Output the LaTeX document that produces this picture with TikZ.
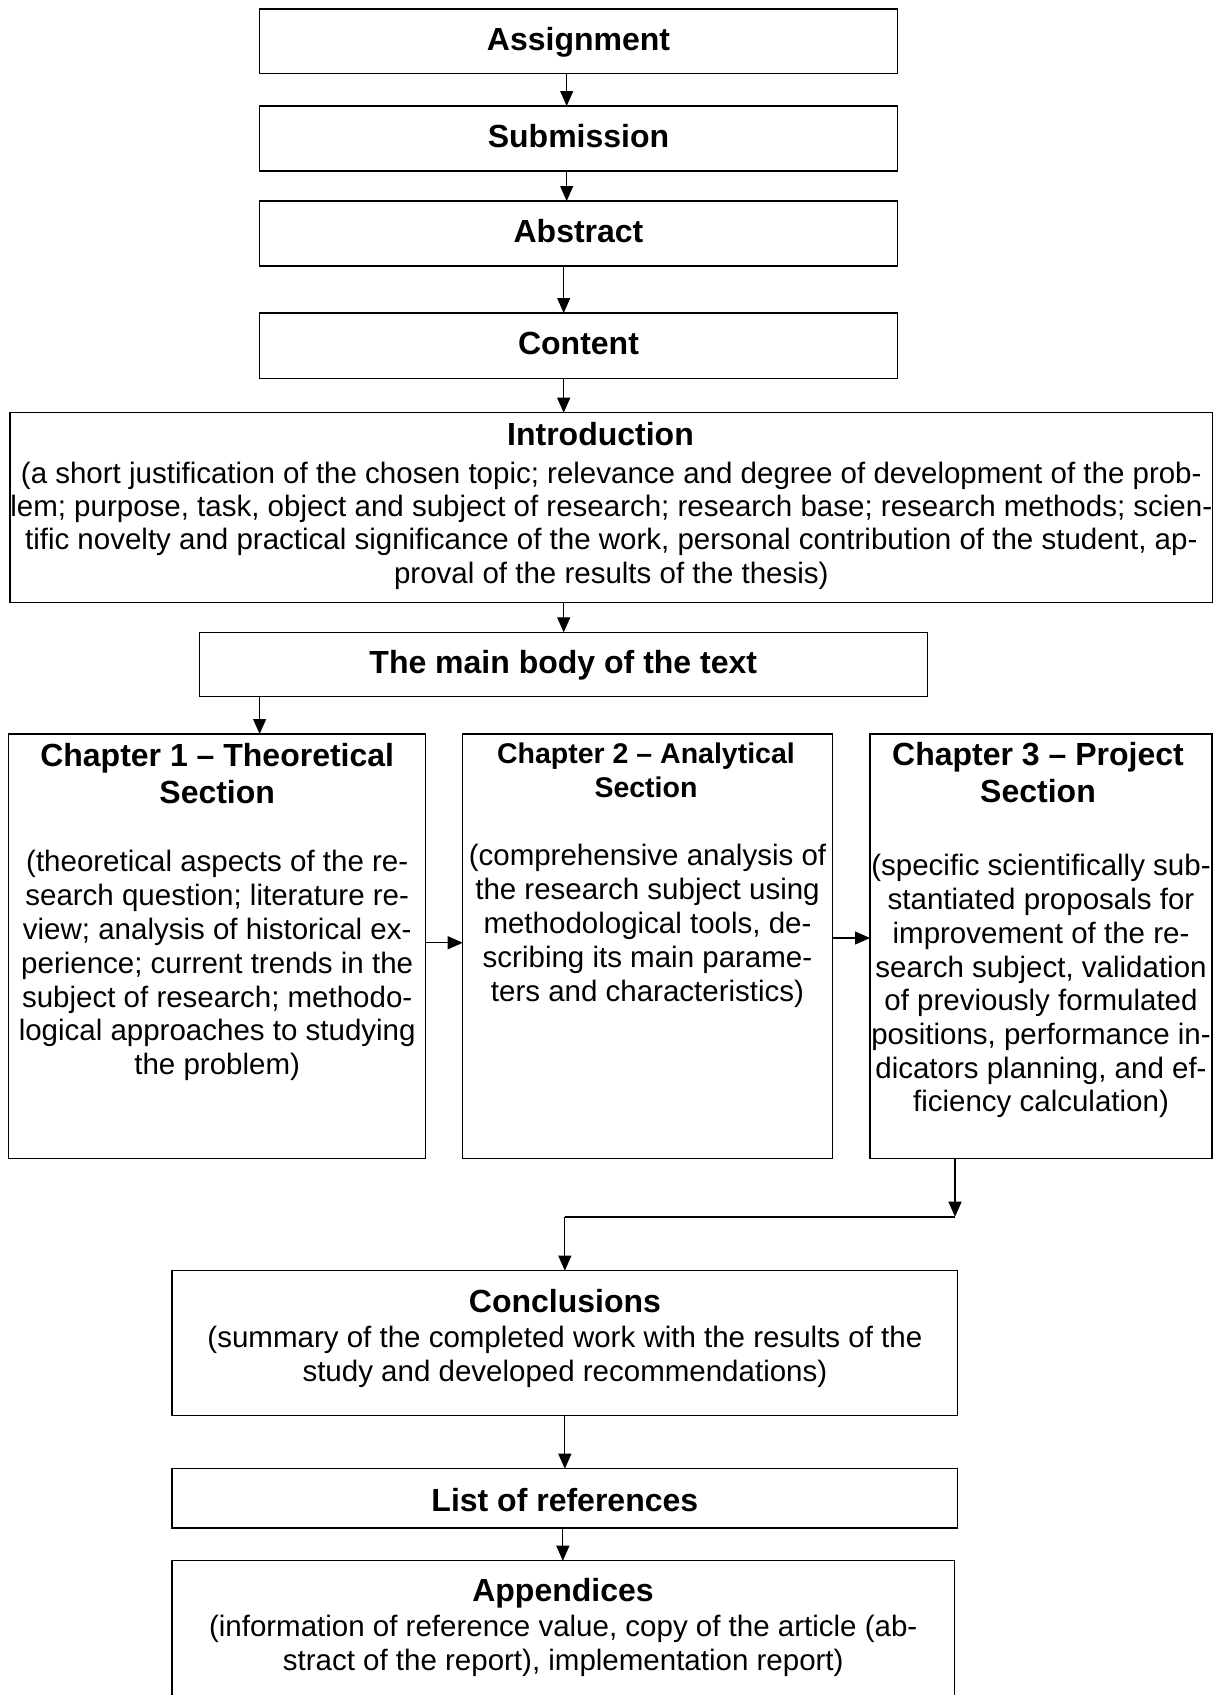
\documentclass[tikz,border=0pt]{standalone}
\usepackage{fontspec}
\setmainfont{Liberation Sans}
\usetikzlibrary{arrows.meta}
\begin{document}
\begin{tikzpicture}[x=1pt,y=-1pt,
  box/.style={draw, line width=1.3pt, rectangle, inner sep=0pt, outer sep=0pt, anchor=north west},
  one/.style={box, font=\bfseries\fontsize{32}{36.5}\selectfont, text height=18.5pt, text depth=0pt},
  ttl/.style={align=center, inner sep=0pt, anchor=north, font=\bfseries\fontsize{32}{36.5}\selectfont},
  ttlsm/.style={align=center, inner sep=0pt, anchor=north, font=\bfseries\fontsize{28.5}{34}\selectfont},
  txt/.style={align=center, inner sep=0pt, anchor=north, font=\fontsize{29.5}{33.8}\selectfont},
  arr/.style={line width=1.1pt, -{Triangle[length=15pt,width=13pt]}},
  joinline/.style={line width=1.6pt}]
\useasboundingbox (0,0) rectangle (1221,1695);
\clip (0,0) rectangle (1221,1695);
\fill[white] (0,0) rectangle (1221,1695);

% boxes
\node[one, minimum width=637.8pt, minimum height=64.7pt] (assign) at (259.6,9) {Assignment};
\node[one, minimum width=637.8pt, minimum height=65pt] (sub) at (259.6,106) {Submission};
\node[one, minimum width=637.8pt, minimum height=65pt] (abs) at (259.6,201) {Abstract};
\node[one, minimum width=637.8pt, minimum height=65.3pt] (cont) at (259.6,313) {Content};
\node[box, minimum width=1202.6pt, minimum height=189.6pt] (intro) at (10,412.7) {};
\node[one, minimum width=728.1pt, minimum height=64.4pt] (main) at (199.2,632.3) {The main body of the text};
\node[box, minimum width=417.1pt, minimum height=424.5pt] (ch1) at (8.6,734) {};
\node[box, minimum width=369.7pt, minimum height=424.5pt] (ch2) at (462.7,734) {};
\node[box, minimum width=342pt, minimum height=424.5pt] (ch3) at (870,734) {};
\node[box, minimum width=785.7pt, minimum height=145pt] (concl) at (172,1270.7) {};
\node[one, minimum width=785.7pt, minimum height=59.3pt, text height=26pt] (refs) at (172,1468.7) {List of references};
\node[box, minimum width=782.3pt, minimum height=170pt] (app) at (172,1560.7) {};

% texts
\node[ttl] (tintro) at (600.5,421.6) {\rule{0pt}{0.75em}Introduction};
\node[txt, font=\fontsize{29.5}{33.3}\selectfont] (bintro) at (611.3,460.8) {\rule{0pt}{0.75em}(a short justification of the chosen topic; relevance and degree of development of the prob-\\
lem; purpose, task, object and subject of research; research base; research methods; scien-\\
tific novelty and practical significance of the work, personal contribution of the student, ap-\\
proval of the results of the thesis)};

\node[ttl] (tch1) at (217.2,742.6) {\rule{0pt}{0.75em}Chapter 1 \textendash{} Theoretical\\Section};
\node[txt] (bch1) at (217.2,849.6) {\rule{0pt}{0.75em}(theoretical aspects of the re-\\
search question; literature re-\\
view; analysis of historical ex-\\
perience; current trends in the\\
subject of research; methodo-\\
logical approaches to studying\\
the problem)};

\node[ttlsm] (tch2) at (646,742) {\rule{0pt}{0.75em}Chapter 2 \textendash{} Analytical\\Section};
\node[txt, font=\fontsize{29.5}{34}\selectfont] (bch2) at (647.5,843.4) {\rule{0pt}{0.75em}(comprehensive analysis of\\
the research subject using\\
methodological tools, de-\\
scribing its main parame-\\
ters and characteristics)};

\node[ttl] (tch3) at (1038,741.6) {\rule{0pt}{0.75em}Chapter 3 \textendash{} Project\\Section};
\node[txt, font=\fontsize{29.5}{33.7}\selectfont] (bch3) at (1041,853.6) {\rule{0pt}{0.75em}(specific scientifically sub-\\
stantiated proposals for\\
improvement of the re-\\
search subject, validation\\
of previously formulated\\
positions, performance in-\\
dicators planning, and ef-\\
ficiency calculation)};

\node[ttl] (tconcl) at (564.9,1288) {\rule{0pt}{0.75em}Conclusions};
\node[txt, font=\fontsize{29.5}{34}\selectfont] (bconcl) at (564.9,1325.1) {\rule{0pt}{0.75em}(summary of the completed work with the results of the\\
study and developed recommendations)};

\node[ttl] (tapp) at (563,1577.6) {\rule{0pt}{0.75em}Appendices};
\node[txt, font=\fontsize{29.5}{33.6}\selectfont] (bapp) at (563.2,1614.6) {\rule{0pt}{0.75em}(information of reference value, copy of the article (ab-\\
stract of the report), implementation report)};

% connectors
\coordinate (c1) at ([xshift=-11.8pt]assign.south);
\draw[arr] (c1) -- (c1 |- sub.north);
\coordinate (c2) at ([xshift=-11.8pt]sub.south);
\draw[arr] (c2) -- (c2 |- abs.north);
\coordinate (c3) at ([xshift=-14.8pt]abs.south);
\draw[arr] (c3) -- (c3 |- cont.north);
\coordinate (c4) at ([xshift=-14.8pt]cont.south);
\draw[arr] (c4) -- (c4 |- intro.north);
\coordinate (c5) at (c4 |- intro.south);
\draw[arr] (c5) -- (c5 |- main.north);
\coordinate (c6) at ([xshift=60.4pt]main.south west);
\draw[arr] (c6) -- (c6 |- ch1.north);
\coordinate (c7) at ([yshift=3.5pt]ch1.east);
\draw[arr] (c7) -- (c7 -| ch2.west);
\coordinate (c8) at ([yshift=8.25pt]ch2.east);
\draw[arr] (c8) -- (c8 -| ch3.west);
\coordinate (c9) at ([xshift=85pt]ch3.south west);
\coordinate (j1) at ([yshift=-58.2pt]c9);
\draw[arr] (c9) -- (j1);
\coordinate (j2) at (j1 -| concl.north);
\draw[joinline] (j1) -- (j2);
\draw[arr] (j2) -- (concl.north);
\draw[arr] (concl.south) -- (refs.north);
\coordinate (c10) at ([xshift=-2pt]refs.south);
\draw[arr] (c10) -- (c10 |- app.north);
\end{tikzpicture}
\end{document}
